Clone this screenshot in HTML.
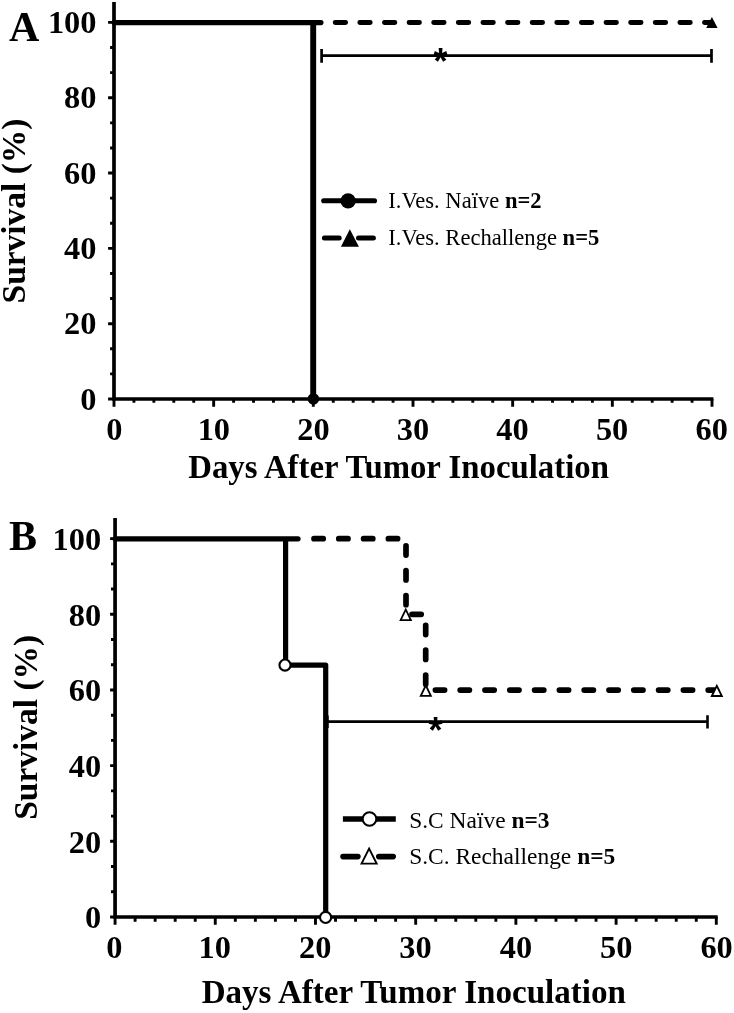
<!DOCTYPE html>
<html><head><meta charset="utf-8"><title>Survival</title>
<style>
html,body{margin:0;padding:0;background:#fff;}
svg{display:block;}
text{font-family:"Liberation Serif","DejaVu Serif",serif;fill:#000;}
.tk{font-size:32.4px;font-weight:bold;}
.ax{font-size:32.8px;font-weight:bold;}
.ay{font-size:33.45px;font-weight:bold;}
.axb{font-size:33.08px;font-weight:bold;}
.pl{font-size:42px;font-weight:bold;}
.lg{font-size:22.58px;}
.lgb{font-size:23.45px;}
.lg tspan,.lgb tspan{font-weight:bold;}
.st{font-family:"Liberation Sans","DejaVu Sans",sans-serif;font-size:36px;font-weight:bold;}
</style></head><body>
<svg width="734" height="1013" viewBox="0 0 734 1013">
<rect width="734" height="1013" fill="#fff"/>
<path d="M114.00 2.05V399.00H713.40" fill="none" stroke="#000" stroke-width="3.7" stroke-linejoin="miter"/>
<path d="M108.10 399.00H114.00M110.10 373.89H114.00M110.10 348.79H114.00M108.10 323.68H114.00M110.10 298.57H114.00M110.10 273.47H114.00M108.10 248.36H114.00M110.10 223.25H114.00M110.10 198.15H114.00M108.10 173.04H114.00M110.10 147.93H114.00M110.10 122.83H114.00M108.10 97.72H114.00M110.10 72.61H114.00M110.10 47.51H114.00M108.10 22.40H114.00M114.00 399.00V406.80M133.93 399.00V402.80M153.87 399.00V402.80M173.80 399.00V402.80M193.73 399.00V402.80M213.67 399.00V406.80M233.60 399.00V402.80M253.53 399.00V402.80M273.47 399.00V402.80M293.40 399.00V402.80M313.33 399.00V406.80M333.27 399.00V402.80M353.20 399.00V402.80M373.13 399.00V402.80M393.07 399.00V402.80M413.00 399.00V406.80M432.93 399.00V402.80M452.87 399.00V402.80M472.80 399.00V402.80M492.73 399.00V402.80M512.67 399.00V406.80M532.60 399.00V402.80M552.53 399.00V402.80M572.47 399.00V402.80M592.40 399.00V402.80M612.33 399.00V406.80M632.27 399.00V402.80M652.20 399.00V402.80M672.13 399.00V402.80M692.07 399.00V402.80M712.00 399.00V406.80" fill="none" stroke="#000" stroke-width="2.9"/>
<text x="96.50" y="409.60" text-anchor="end" class="tk">0</text>
<text x="96.50" y="334.28" text-anchor="end" class="tk">20</text>
<text x="96.50" y="258.96" text-anchor="end" class="tk">40</text>
<text x="96.50" y="183.64" text-anchor="end" class="tk">60</text>
<text x="96.50" y="108.32" text-anchor="end" class="tk">80</text>
<text x="96.50" y="33.00" text-anchor="end" class="tk">100</text>
<text x="114.30" y="440.00" text-anchor="middle" class="tk">0</text>
<text x="213.87" y="440.00" text-anchor="middle" class="tk">10</text>
<text x="313.43" y="440.00" text-anchor="middle" class="tk">20</text>
<text x="413.00" y="440.00" text-anchor="middle" class="tk">30</text>
<text x="512.57" y="440.00" text-anchor="middle" class="tk">40</text>
<text x="612.13" y="440.00" text-anchor="middle" class="tk">50</text>
<text x="711.70" y="440.00" text-anchor="middle" class="tk">60</text>
<text x="9" y="40.9" class="pl">A</text>
<text transform="translate(25.4 211.0) rotate(-90)" text-anchor="middle" class="ay">Survival (%)</text>
<text x="398.6" y="478.2" text-anchor="middle" class="ax">Days After Tumor Inoculation</text>
<path d="M114.00 22.6H321" fill="none" stroke="#000" stroke-width="5.1" stroke-linecap="round"/>
<path d="M313.2 22.6V399.00" fill="none" stroke="#000" stroke-width="5.9"/>
<circle cx="313.4" cy="398.90" r="5.75" fill="#000"/>
<path d="M335.2 22.5H710.5" fill="none" stroke="#000" stroke-width="4.9" stroke-dasharray="10.4 14.22" stroke-linecap="round"/>
<path d="M706.2 27.9L711.9 17.1L717.6 27.9Z" fill="#000"/>
<path d="M321.6 55.7H711.5M321.6 48.9V62.7M711.5 48.9V62.7" fill="none" stroke="#000" stroke-width="2.7"/>
<text x="440.4" y="74.3" text-anchor="middle" class="st">*</text>
<path d="M323.7 200.75H374.5" stroke="#000" stroke-width="5.1" stroke-linecap="round"/>
<circle cx="348.1" cy="200.9" r="7.6" fill="#000"/>
<path d="M324.4 238.05H339.2M358.5 238.05H373.4" stroke="#000" stroke-width="5" stroke-linecap="round"/>
<path d="M340.9 246.7L349.85 229.3L358.9 246.7Z" fill="#000"/>
<text x="388.3" y="208.2" class="lg">I.Ves. Naïve <tspan>n=2</tspan></text>
<text x="388.3" y="244.9" class="lg">I.Ves. Rechallenge <tspan>n=5</tspan></text>
<path d="M115.07 518.05V917.00H717.70" fill="none" stroke="#000" stroke-width="3.7" stroke-linejoin="miter"/>
<path d="M110.10 917.00H115.07M111.00 891.77H115.07M111.00 866.55H115.07M110.10 841.32H115.07M111.00 816.09H115.07M111.00 790.87H115.07M110.10 765.64H115.07M111.00 740.41H115.07M111.00 715.19H115.07M110.10 689.96H115.07M111.00 664.73H115.07M111.00 639.51H115.07M110.10 614.28H115.07M111.00 589.05H115.07M111.00 563.83H115.07M110.10 538.60H115.07M115.07 917.00V924.80M135.11 917.00V921.70M155.15 917.00V921.70M175.19 917.00V921.70M195.23 917.00V921.70M215.27 917.00V924.80M235.32 917.00V921.70M255.36 917.00V921.70M275.40 917.00V921.70M295.44 917.00V921.70M315.48 917.00V924.80M335.52 917.00V921.70M355.56 917.00V921.70M375.60 917.00V921.70M395.64 917.00V921.70M415.69 917.00V924.80M435.73 917.00V921.70M455.77 917.00V921.70M475.81 917.00V921.70M495.85 917.00V921.70M515.89 917.00V924.80M535.93 917.00V921.70M555.97 917.00V921.70M576.01 917.00V921.70M596.05 917.00V921.70M616.10 917.00V924.80M636.14 917.00V921.70M656.18 917.00V921.70M676.22 917.00V921.70M696.26 917.00V921.70M716.30 917.00V924.80" fill="none" stroke="#000" stroke-width="2.9"/>
<text x="101.20" y="928.30" text-anchor="end" class="tk">0</text>
<text x="101.20" y="852.62" text-anchor="end" class="tk">20</text>
<text x="101.20" y="776.94" text-anchor="end" class="tk">40</text>
<text x="101.20" y="701.26" text-anchor="end" class="tk">60</text>
<text x="101.20" y="625.58" text-anchor="end" class="tk">80</text>
<text x="101.20" y="549.90" text-anchor="end" class="tk">100</text>
<text x="114.47" y="958.30" text-anchor="middle" class="tk">0</text>
<text x="214.82" y="958.30" text-anchor="middle" class="tk">10</text>
<text x="315.18" y="958.30" text-anchor="middle" class="tk">20</text>
<text x="415.53" y="958.30" text-anchor="middle" class="tk">30</text>
<text x="515.89" y="958.30" text-anchor="middle" class="tk">40</text>
<text x="616.25" y="958.30" text-anchor="middle" class="tk">50</text>
<text x="716.60" y="958.30" text-anchor="middle" class="tk">60</text>
<text x="9" y="550.4" class="pl">B</text>
<text transform="translate(37.0 727.3) rotate(-90)" text-anchor="middle" class="ay">Survival (%)</text>
<text x="413.8" y="1002.5" text-anchor="middle" class="axb">Days After Tumor Inoculation</text>
<path d="M115.07 538.8H298" fill="none" stroke="#000" stroke-width="5.3" stroke-linecap="round"/>
<path d="M285.6 538.8V665.1H325.7V917.00" fill="none" stroke="#000" stroke-width="5.2" stroke-linejoin="round"/>
<path d="M314.0 538.7H406.0V614.3H425.7V690.1H716.5" fill="none" stroke="#000" stroke-width="5.7" stroke-dasharray="9.2 15.6" stroke-linecap="round" stroke-linejoin="round"/>
<circle cx="285.00" cy="665.10" r="5.55" fill="#fff" stroke="#000" stroke-width="2.1"/>
<circle cx="325.60" cy="917.40" r="5.55" fill="#fff" stroke="#000" stroke-width="2.1"/>
<path d="M400.63 620.10L405.75 609.47L410.87 620.10Z" fill="#fff" stroke="#000" stroke-width="1.8" stroke-linejoin="miter"/>
<path d="M420.74 695.80L425.80 685.36L430.86 695.80Z" fill="#fff" stroke="#000" stroke-width="1.8" stroke-linejoin="miter"/>
<path d="M711.85 696.00L716.81 685.84L721.85 696.00Z" fill="#fff" stroke="#000" stroke-width="1.8" stroke-linejoin="miter"/>
<path d="M326 721.6H707.5M327.4 715.4V727.9M707.5 715.3V728.5" fill="none" stroke="#000" stroke-width="2.6"/>
<text x="435.5" y="743.3" text-anchor="middle" class="st">*</text>
<path d="M342.9 819.1H395.8" stroke="#000" stroke-width="5.5"/>
<circle cx="369.5" cy="819.0" r="6.8" fill="#fff" stroke="#000" stroke-width="2"/>
<path d="M343 856.6H357.9M378.8 856.6H393.2" stroke="#000" stroke-width="5.6" stroke-linecap="round"/>
<path d="M361.54 863.65L369.10 848.61L376.66 863.65Z" fill="#fff" stroke="#000" stroke-width="1.9" stroke-linejoin="miter"/>
<text x="409.2" y="827.8" class="lgb">S.C Naïve <tspan>n=3</tspan></text>
<text x="409.2" y="864.4" class="lgb">S.C. Rechallenge <tspan>n=5</tspan></text>
</svg></body></html>
